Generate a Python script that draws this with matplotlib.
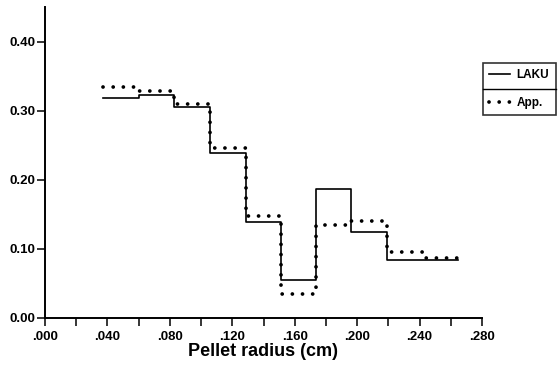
import matplotlib
matplotlib.use('Agg')
import matplotlib.pyplot as plt
from matplotlib.lines import Line2D

# zone edges (cm) and values per zone
r_edges = [0.0374, 0.060, 0.0826, 0.1058, 0.129, 0.151, 0.1735, 0.196, 0.219, 0.242, 0.2645]
laku = [0.319, 0.322, 0.306, 0.239, 0.139, 0.055, 0.186, 0.124, 0.084, 0.084]
app = [0.334, 0.329, 0.309, 0.246, 0.147, 0.035, 0.134, 0.141, 0.096, 0.087]

x_ticks = [0.000, 0.040, 0.080, 0.120, 0.160, 0.200, 0.240, 0.280]
x_tick_labels = ['.000', '.040', '.080', '.120', '.160', '.200', '.240', '.280']
x_minor = [0.020, 0.060, 0.100, 0.140, 0.180, 0.220, 0.260]
y_ticks = [0.0, 0.1, 0.2, 0.3, 0.4]
y_tick_labels = ['0.00', '0.10', '0.20', '0.30', '0.40']

plt.rcParams['font.family'] = ['Liberation Sans', 'DejaVu Sans']

fig = plt.figure(figsize=(5.58, 3.67), dpi=100)
ax = fig.add_axes([45 / 558, 1 - 318 / 367, 437 / 558, 311 / 367])

# step curves: repeat last value so the final zone is closed
ax.plot(r_edges, laku + [laku[-1]], drawstyle='steps-post', color='black', lw=1.2,
        label='LAKU')
ax.plot(r_edges, app + [app[-1]], drawstyle='steps-post', color='black', lw=2.7,
        linestyle=(0, (0.01, 2.7)), dash_capstyle='round', label='App.')

ax.set_xlim(0, 0.28)
ax.set_ylim(0, 0.45)
ax.set_xticks(x_ticks)
ax.set_xticklabels(x_tick_labels)
ax.set_xticks(x_minor, minor=True)
ax.set_yticks(y_ticks)
ax.set_yticklabels(y_tick_labels)

for s in ['top', 'right']:
    ax.spines[s].set_visible(False)
for s in ['left', 'bottom']:
    ax.spines[s].set_linewidth(1.4)

ax.tick_params(axis='both', which='both', direction='out', length=6, width=1.1,
               labelsize=9.5)
ax.tick_params(axis='x', pad=3)
ax.tick_params(axis='y', pad=1)
for lab in ax.get_xticklabels() + ax.get_yticklabels():
    lab.set_fontweight('bold')

ax.set_xlabel('Pellet radius (cm)', fontsize=13, fontweight='bold', labelpad=0)

leg = ax.legend(loc='upper left', bbox_to_anchor=(483 / 558, 1 - 63 / 367),
                bbox_transform=fig.transFigure, frameon=True, fancybox=False,
                edgecolor='black', fontsize=8.5, handlelength=1.7, handletextpad=0.6,
                labelspacing=1.3, borderpad=0.55, borderaxespad=0)
leg.get_frame().set_linewidth(1.2)
for t in leg.get_texts():
    t.set_fontweight('bold')

# divider line between the two legend entries
fig.canvas.draw()
bb = leg.get_window_extent().transformed(fig.transFigure.inverted())
ymid = (bb.y0 + bb.y1) / 2
fig.add_artist(Line2D([bb.x0, bb.x1], [ymid, ymid], color='black', lw=1.0,
                      transform=fig.transFigure))

fig.savefig('out.png', dpi=100)
